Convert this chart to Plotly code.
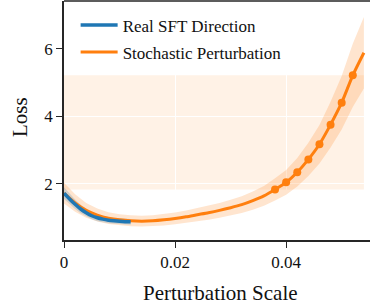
import plotly.graph_objects as go

# ---- data ----
blue_x = [0.000, 0.001, 0.002, 0.003, 0.004, 0.005, 0.006, 0.007, 0.008, 0.009, 0.010, 0.011, 0.012]
blue_y = [1.72, 1.55, 1.39, 1.25, 1.14, 1.05, 0.99, 0.95, 0.92, 0.90, 0.885, 0.875, 0.87]

orange_x = [0.000, 0.002, 0.004, 0.006, 0.008, 0.010, 0.012, 0.014, 0.016, 0.018, 0.020,
            0.022, 0.024, 0.026, 0.028, 0.030, 0.032, 0.034, 0.036, 0.038, 0.040, 0.042,
            0.044, 0.046, 0.048, 0.050, 0.052, 0.054]
orange_y = [1.72, 1.43, 1.21, 1.07, 0.98, 0.93, 0.90, 0.89, 0.90, 0.93, 0.97,
            1.02, 1.08, 1.14, 1.21, 1.29, 1.38, 1.50, 1.64, 1.83, 2.04, 2.34,
            2.72, 3.17, 3.75, 4.40, 5.21, 5.88]
marker_start = 0.038
marker_end = 0.052

blue_band = 0.10
orange_band = 0.18

x_ticks = [0, 0.02, 0.04]
x_tick_labels = ["0", "0.02", "0.04"]
y_ticks = [2, 4, 6]

BLUE = "#1f77b4"
ORANGE = "#ff7f0e"
FONT = "Liberation Serif"

mk = [(x, y) for x, y in zip(orange_x, orange_y) if marker_start - 1e-9 <= x <= marker_end + 1e-9]
mk_x = [p[0] for p in mk]
mk_y = [p[1] for p in mk]

fig = go.Figure()

# orange band
fig.add_trace(go.Scatter(x=orange_x, y=[y * (1 + orange_band) for y in orange_y],
                         mode="lines", line=dict(width=0), showlegend=False, hoverinfo="skip"))
fig.add_trace(go.Scatter(x=orange_x, y=[y * (1 - orange_band) for y in orange_y],
                         mode="lines", line=dict(width=0), fill="tonexty",
                         fillcolor="rgba(255,127,14,0.2)", showlegend=False, hoverinfo="skip"))
# blue band
fig.add_trace(go.Scatter(x=blue_x, y=[y * (1 + blue_band) for y in blue_y],
                         mode="lines", line=dict(width=0), showlegend=False, hoverinfo="skip"))
fig.add_trace(go.Scatter(x=blue_x, y=[y * (1 - blue_band) for y in blue_y],
                         mode="lines", line=dict(width=0), fill="tonexty",
                         fillcolor="rgba(31,119,180,0.2)", showlegend=False, hoverinfo="skip"))

fig.add_trace(go.Scatter(x=orange_x, y=orange_y, mode="lines", name="Stochastic Perturbation",
                         line=dict(color=ORANGE, width=3, shape="spline", smoothing=0.6),
                         legendgroup="b", legendrank=2))
fig.add_trace(go.Scatter(x=mk_x, y=mk_y, mode="markers", showlegend=False,
                         marker=dict(color=ORANGE, size=8)))
fig.add_trace(go.Scatter(x=blue_x, y=blue_y, mode="lines", name="Real SFT Direction",
                         line=dict(color=BLUE, width=3.5, shape="spline", smoothing=0.6),
                         legendgroup="a", legendrank=1))

# highlighted range rectangle
fig.add_shape(type="rect", xref="x", yref="y", x0=orange_x[0], x1=orange_x[-1],
              y0=min(mk_y), y1=max(mk_y), fillcolor="rgba(255,127,14,0.1)",
              line=dict(width=0), layer="below")
# top frame line
fig.add_shape(type="line", xref="paper", yref="paper", x0=0, x1=1, y0=1, y1=1,
              line=dict(color="#262626", width=1.5))

W, H = 370, 307
L, R, T, B = 64, 0, 1, 67
pw, ph = W - L - R, H - T - B

# axis titles as annotations (exact placement)
fig.add_annotation(text="Perturbation Scale", xref="paper", yref="paper",
                   x=(220 - L) / pw, y=-(293 - (T + ph)) / ph, showarrow=False,
                   xanchor="center", yanchor="middle", font=dict(size=21, family=FONT, color="#111"))
fig.add_annotation(text="Loss", xref="paper", yref="paper",
                   x=-(L - 20) / pw, y=1 - (117 - T) / ph, showarrow=False, textangle=-90,
                   xanchor="center", yanchor="middle", font=dict(size=21, family=FONT, color="#111"))

fig.update_layout(
    width=W, height=H,
    margin=dict(l=L, r=R, t=T, b=B, autoexpand=False),
    paper_bgcolor="white", plot_bgcolor="white",
    font=dict(family=FONT, size=17, color="#111"),
    legend=dict(x=0.038, y=0.973, xanchor="left", yanchor="top", itemwidth=37,
                bgcolor="rgba(255,255,255,0)", font=dict(size=17, family=FONT),
                tracegroupgap=2, traceorder="grouped"),
    xaxis=dict(range=[0, 0.0551], tickvals=x_ticks, ticktext=x_tick_labels, automargin=False,
               showgrid=True, gridcolor="white", gridwidth=1, zeroline=False,
               showline=True, linecolor="#262626", linewidth=1.5,
               ticks="outside", ticklen=6, tickwidth=1.2, tickcolor="#262626",
               tickfont=dict(size=17, family=FONT)),
    yaxis=dict(range=[0.332, 7.413], tickvals=y_ticks, automargin=False,
               showgrid=True, gridcolor="white", gridwidth=1, zeroline=False,
               showline=True, linecolor="#262626", linewidth=1.5,
               ticks="outside", ticklen=6, tickwidth=1.2, tickcolor="#262626",
               tickfont=dict(size=17, family=FONT)),
)

fig.write_html("out.html", config={"displayModeBar": False},
               post_script="document.body.style.margin='0';document.body.style.overflow='hidden';")
